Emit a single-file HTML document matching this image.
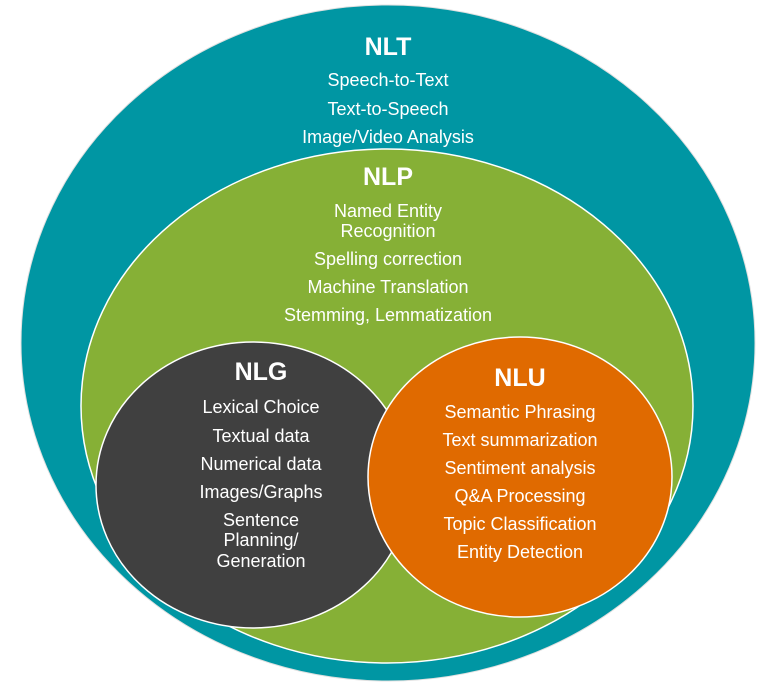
<!DOCTYPE html>
<html><head><meta charset="utf-8"><style>html,body{margin:0;padding:0;background:#fff}svg{display:block}</style></head>
<body>
<svg width="768" height="690" viewBox="0 0 768 690" xmlns="http://www.w3.org/2000/svg" font-family="Liberation Sans, sans-serif" fill="#fff">
<ellipse cx="388" cy="343" rx="367" ry="338" fill="#0096a3" stroke="#e0e0e0" stroke-width="1"/>
<ellipse cx="387" cy="406" rx="306" ry="257" fill="#86b036" stroke="#fff" stroke-width="1.5"/>
<ellipse cx="253" cy="485" rx="157" ry="143" fill="#404040" stroke="#fff" stroke-width="1.5"/>
<ellipse cx="520" cy="477" rx="152" ry="140" fill="#e06a00" stroke="#fff" stroke-width="1.5"/>
<g text-anchor="middle" dominant-baseline="central" font-size="18">
<text x="388" y="47" font-size="25" font-weight="bold">NLT</text>
<text x="388" y="80">Speech-to-Text</text>
<text x="388" y="109">Text-to-Speech</text>
<text x="388" y="137">Image/Video Analysis</text>
<text x="388" y="177" font-size="25" font-weight="bold">NLP</text>
<text x="388" y="211">Named Entity</text>
<text x="388" y="231">Recognition</text>
<text x="388" y="259">Spelling correction</text>
<text x="388" y="287">Machine Translation</text>
<text x="388" y="315">Stemming, Lemmatization</text>
<text x="261" y="372" font-size="25" font-weight="bold">NLG</text>
<text x="261" y="407">Lexical Choice</text>
<text x="261" y="436">Textual data</text>
<text x="261" y="464">Numerical data</text>
<text x="261" y="492">Images/Graphs</text>
<text x="261" y="520">Sentence</text>
<text x="261" y="540">Planning/</text>
<text x="261" y="561">Generation</text>
<text x="520" y="378" font-size="25" font-weight="bold">NLU</text>
<text x="520" y="412">Semantic Phrasing</text>
<text x="520" y="440">Text summarization</text>
<text x="520" y="468">Sentiment analysis</text>
<text x="520" y="496">Q&amp;A Processing</text>
<text x="520" y="524">Topic Classification</text>
<text x="520" y="552">Entity Detection</text>
</g>
</svg>
</body></html>
